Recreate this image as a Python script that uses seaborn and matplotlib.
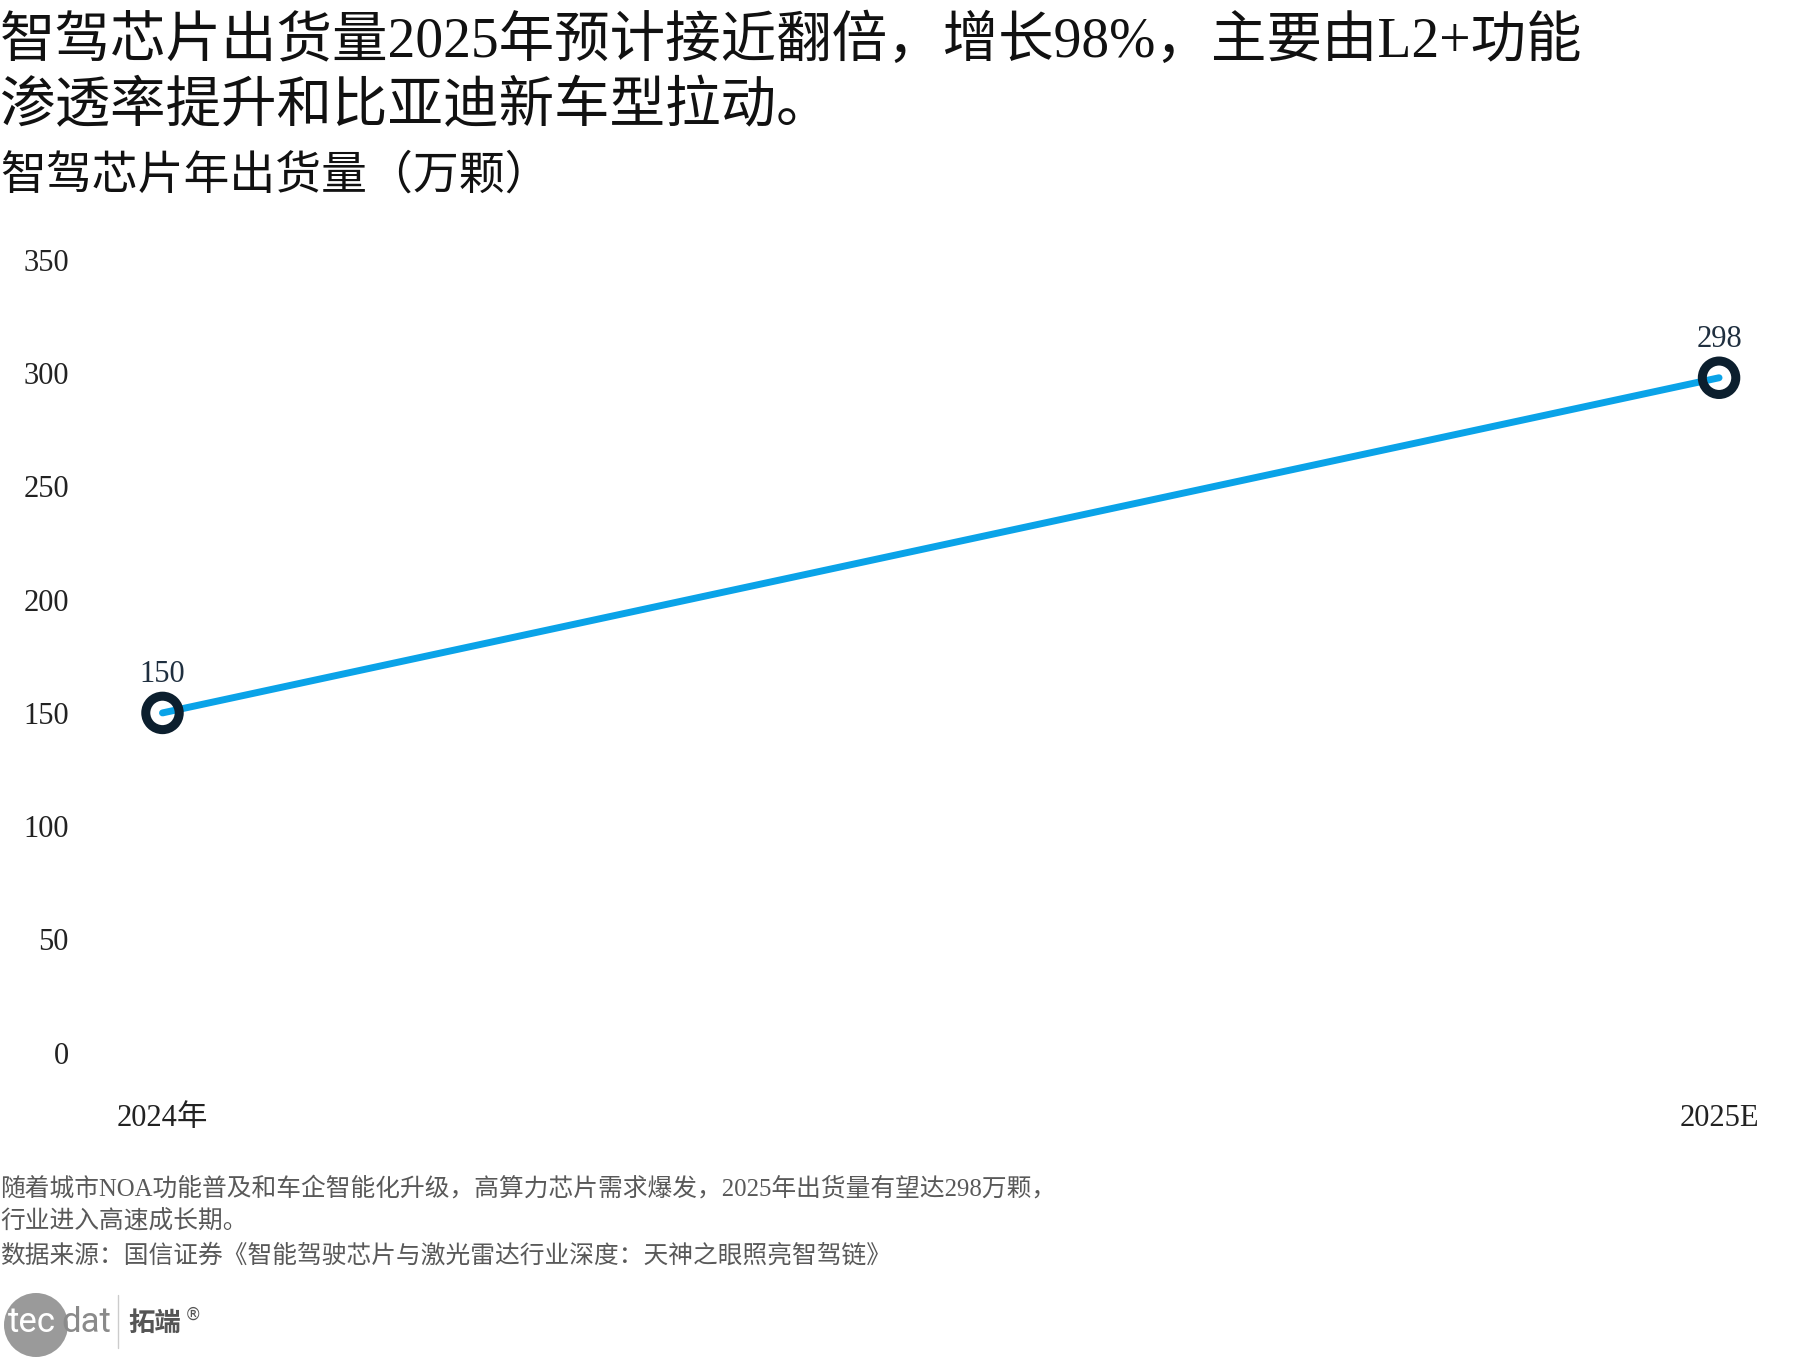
import pandas as pd
import matplotlib.pyplot as plt
import seaborn as sns
from matplotlib.patches import Ellipse
from matplotlib.lines import Line2D

# 数据
anios = ["2024年", "2025E"]
envios = [150, 298]
yticks = [0, 50, 100, 150, 200, 250, 300, 350]

titulo = ["智驾芯片出货量2025年预计接近翻倍，增长98%，主要由L2+功能",
          "渗透率提升和比亚迪新车型拉动。"]
subtitulo = "智驾芯片年出货量（万颗）"
notas = ["随着城市NOA功能普及和车企智能化升级，高算力芯片需求爆发，2025年出货量有望达298万颗，",
         "行业进入高速成长期。",
         "数据来源：国信证券《智能驾驶芯片与激光雷达行业深度：天神之眼照亮智驾链》"]

df = pd.DataFrame({"anio": anios, "envios": envios})

W, H = 1814, 1361
sns.set_theme(style="white")
plt.rcParams['font.family'] = ['Liberation Serif', 'Noto Sans CJK SC', 'DejaVu Sans']

fig = plt.figure(figsize=(W / 100, H / 100), dpi=100)
ax = fig.add_axes([80 / W, 1 - 1052.6 / H, 1720 / W, (1052.6 - 260) / H])

# linea y marcadores
sns.lineplot(data=df, x="anio", y="envios", color="#0aa3e8", linewidth=5,
             ax=ax, zorder=2, sort=False)
sns.scatterplot(data=df, x="anio", y="envios", s=580, facecolor="none",
                edgecolor="#0c1f2e", linewidth=6.5, ax=ax, zorder=3)

for i, v in enumerate(envios):
    ax.annotate(str(v), (i, v), xytext=(0, 17), textcoords="offset points",
                ha="center", va="bottom", fontsize=22, color="#1f2f3f")

ax.set_xlim(-0.053, 1.052)
ax.set_ylim(0, 350)
ax.set_yticks(yticks)
ax.set_yticklabels([str(t) for t in yticks])
ax.tick_params(axis="y", length=0, pad=8, labelsize=22, labelcolor="#222222")
ax.tick_params(axis="x", length=0, pad=37, labelsize=22, labelcolor="#222222")
ax.set_xlabel("")
ax.set_ylabel("")
sns.despine(ax=ax, left=True, bottom=True)
ax.grid(False)

def fx(px):
    return px / W

def fy(py):
    return 1 - py / H

# titulos
fig.text(0, fy(42), titulo[0], fontsize=40, va="center", ha="left", color="#111111")
fig.text(0, fy(108), titulo[1], fontsize=40, va="center", ha="left", color="#111111")
fig.text(0, fy(177), subtitulo, fontsize=33, va="center", ha="left", color="#111111")

# notas al pie
for txt, yy in zip(notas, [1189, 1221, 1256]):
    fig.text(0, fy(yy), txt, fontsize=17.8, va="center", ha="left", color="#595959")

# logo
fig.patches.append(Ellipse((fx(36), fy(1325)), 64 / W, 64 / H, transform=fig.transFigure,
                           facecolor="#9a9a9a", edgecolor="none"))
fig.text(fx(8), fy(1323), "tec", fontsize=25, family="Roboto", color="white",
         va="center", ha="left")
fig.text(fx(61), fy(1323), "dat", fontsize=25, family="Roboto", color="#8a8a8a",
         va="center", ha="left")
fig.lines.append(Line2D([fx(118), fx(118)], [fy(1295), fy(1348)], transform=fig.transFigure,
                        color="#cccccc", linewidth=1))
fig.text(fx(128), fy(1323), "拓端", fontsize=19, family="Noto Sans CJK SC",
         fontweight="bold", color="#555555", va="center", ha="left")
fig.text(fx(185), fy(1315), "®", fontsize=12, family="DejaVu Sans",
         color="#555555", va="center", ha="left")

fig.savefig("out.png", dpi=100)
